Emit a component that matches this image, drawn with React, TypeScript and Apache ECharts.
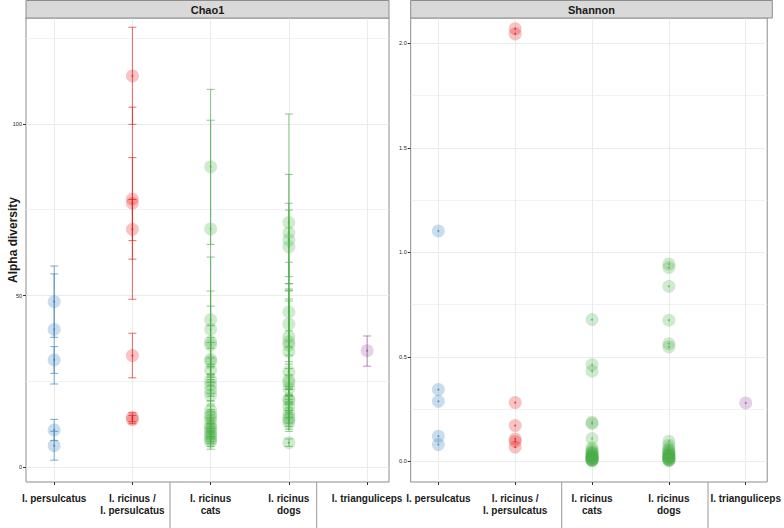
import React, { useEffect, useRef } from "react";
import * as echarts from "echarts";

// ---- data ----
const categories = [
  "I. persulcatus",
  "I. ricinus /\nI. persulcatus",
  "I. ricinus\ncats",
  "I. ricinus\ndogs",
  "I. trianguliceps",
];
const groupColors = ["#377EB8", "#E41A1C", "#4DAF4A", "#4DAF4A", "#984EA3"];
const panelTitles = ["Chao1", "Shannon"];
const chao1Ticks = [0, 50, 100];
const shannonTicks = [0, 0.5, 1, 1.5, 2];

// Chao1: [estimate, lower, upper]
const chao1Persulcatus = [
  [48.2, 37.8, 58.6],
  [40.1, 24.2, 56.3],
  [31.2, 27.3, 35.1],
  [10.8, 7.7, 13.9],
  [6.2, 2.0, 10.4],
];
const chao1RicinusPersulcatus = [
  [114.0, 99.9, 128.2],
  [78.1, 66.0, 90.2],
  [76.9, 48.9, 104.9],
  [69.3, 60.6, 78.0],
  [32.5, 26.0, 39.0],
  [14.5, 13.2, 15.8],
  [13.8, 12.6, 15.0],
];
const chao1Cats = [
  [87.5, 64.9, 110.1],
  [69.4, 37.7, 101.1],
  [42.9, 24.6, 61.2],
  [40.1, 28.9, 51.3],
  [36.5, 26.1, 46.9],
  [35.6, 30.0, 41.2],
  [31.4, 26.5, 36.3],
  [30.8, 27.0, 34.6],
  [28.3, 24.8, 31.8],
  [25.4, 21.5, 29.3],
  [23.9, 20.6, 27.2],
  [22.4, 19.3, 25.5],
  [21.0, 18.4, 23.6],
  [16.6, 14.0, 19.2],
  [15.2, 12.6, 17.8],
  [14.6, 12.5, 16.7],
  [13.7, 11.3, 16.1],
  [12.2, 10.0, 14.4],
  [11.5, 9.6, 13.4],
  [10.8, 8.8, 12.8],
  [10.0, 8.2, 11.8],
  [9.3, 7.4, 11.2],
  [8.6, 6.8, 10.4],
  [7.9, 5.2, 10.6],
  [7.4, 6.0, 8.8],
];
const chao1Dogs = [
  [71.3, 39.7, 102.9],
  [68.3, 51.3, 85.3],
  [66.2, 55.5, 76.9],
  [64.2, 53.5, 74.9],
  [45.2, 30.7, 59.7],
  [41.7, 35.0, 48.4],
  [38.0, 22.6, 53.4],
  [36.5, 21.1, 51.9],
  [35.6, 19.7, 51.5],
  [33.6, 18.2, 49.0],
  [27.8, 23.0, 32.6],
  [25.4, 20.8, 30.0],
  [24.6, 20.5, 28.7],
  [22.9, 19.0, 26.8],
  [20.0, 16.5, 23.5],
  [19.2, 15.8, 22.6],
  [17.6, 14.4, 20.8],
  [15.7, 12.8, 18.6],
  [14.5, 11.8, 17.2],
  [13.7, 11.0, 16.4],
  [12.9, 10.4, 15.4],
  [7.1, 6.0, 8.2],
];
const chao1Trianguliceps = [[33.9, 29.4, 38.2]];

// Shannon values
const shannonPersulcatus = [1.102, 0.343, 0.287, 0.12, 0.08];
const shannonRicinusPersulcatus = [2.07, 2.045, 0.281, 0.171, 0.107, 0.095, 0.068];
const shannonCats = [
  0.678, 0.463, 0.431, 0.187, 0.18, 0.109, 0.065, 0.055, 0.048, 0.042, 0.038,
  0.033, 0.03, 0.027, 0.024, 0.021, 0.018, 0.015, 0.013, 0.011, 0.009, 0.007,
  0.005, 0.004, 0.003,
];
const shannonDogs = [
  0.944, 0.927, 0.837, 0.675, 0.563, 0.547, 0.096, 0.077, 0.062, 0.055, 0.048,
  0.043, 0.039, 0.035, 0.031, 0.028, 0.025, 0.022, 0.019, 0.016, 0.013, 0.011,
  0.009, 0.007, 0.005, 0.003,
];
const shannonTrianguliceps = [0.279];

const chao1Groups = [chao1Persulcatus, chao1RicinusPersulcatus, chao1Cats, chao1Dogs, chao1Trianguliceps];
const shannonGroups = [shannonPersulcatus, shannonRicinusPersulcatus, shannonCats, shannonDogs, shannonTrianguliceps];

function hexA(hex: string, a: number) {
  const r = parseInt(hex.slice(1, 3), 16);
  const g = parseInt(hex.slice(3, 5), 16);
  const b = parseInt(hex.slice(5, 7), 16);
  return `rgba(${r},${g},${b},${a})`;
}

export default function App() {
  const ref = useRef<HTMLDivElement>(null);
  useEffect(() => {
    if (!ref.current) return;
    const chart = echarts.init(ref.current, null, { renderer: "svg" });
    const font = "'Liberation Sans', Arial, sans-serif";

    const errData: any[] = [];
    const chaoPts: any[] = [];
    const chaoDots: any[] = [];
    chao1Groups.forEach((g, i) => {
      g.forEach((d) => {
        errData.push([i, d[1], d[2]]);
        chaoPts.push({ value: [i, d[0]], itemStyle: { color: hexA(groupColors[i], 0.33) } });
        chaoDots.push({ value: [i, d[0]], itemStyle: { color: hexA(groupColors[i], 0.9) } });
      });
    });
    const shPts: any[] = [];
    const shDots: any[] = [];
    shannonGroups.forEach((g, i) => {
      g.forEach((v) => {
        shPts.push({ value: [i, v], itemStyle: { color: hexA(groupColors[i], 0.33) } });
        shDots.push({ value: [i, v], itemStyle: { color: hexA(groupColors[i], 0.9) } });
      });
    });

    const isInt = (v: number) => Math.abs(v - Math.round(v)) < 1e-6 && v > -0.5 && v < 4.5;
    const xAxisBase = (gi: number) => ({
      type: "value",
      gridIndex: gi,
      min: -0.36,
      max: 4.28,
      minInterval: 1,
      maxInterval: 1,
      axisLine: { show: false, onZero: false },
      axisTick: { show: true, length: 3, lineStyle: { color: "#333" }, customValues: [0, 1, 2, 3, 4] },
      axisLabel: {
        customValues: [0, 1, 2, 3, 4],
        formatter: (v: number) => (isInt(v) ? categories[Math.round(v)] : ""),
        fontSize: 10,
        fontWeight: "bold",
        fontFamily: font,
        color: "#1a1a1a",
        lineHeight: 12,
        margin: 10,
        verticalAlign: "top",
      },
      splitLine: { show: true, lineStyle: { color: "#EBEBEB", width: 1 } },
    });
    const yAxisBase = (gi: number, min: number, max: number, iv: number, ticks: number[], dec: number) => ({
      type: "value",
      gridIndex: gi,
      min,
      max,
      minInterval: iv,
      maxInterval: iv,
      splitNumber: 4,
      axisLine: { show: false, onZero: false },
      axisTick: { show: true, length: 3, lineStyle: { color: "#333" }, customValues: ticks },
      axisLabel: {
        customValues: ticks,
        formatter: (v: number) => v.toFixed(dec),
        fontSize: 5.5,
        fontFamily: font,
        color: "#222",
        margin: 4,
      },
      splitLine: { show: true, lineStyle: { color: "#EBEBEB", width: 1 } },
      minorTick: { show: false, splitNumber: 2 },
      minorSplitLine: { show: true, lineStyle: { color: "#EFEFEF", width: 0.8 } },
    });

    const option: any = {
      animation: false,
      backgroundColor: "#fff",
      grid: [
        { left: 26, top: 18, width: 363, height: 464, show: true, borderColor: "#8c8c8c", borderWidth: 1, backgroundColor: "transparent" },
        { left: 410.7, top: 18, width: 361.6, height: 464, show: true, borderColor: "#8c8c8c", borderWidth: 1, backgroundColor: "transparent" },
      ],
      xAxis: [xAxisBase(0), xAxisBase(1)],
      yAxis: [
        yAxisBase(0, -4.37, 130.9, 50, chao1Ticks, 0),
        yAxisBase(1, -0.099, 2.121, 0.5, shannonTicks, 1),
      ],
      series: [
        {
          type: "custom",
          xAxisIndex: 0,
          yAxisIndex: 0,
          data: errData,
          encode: { x: 0, y: [1, 2] },
          z: 2,
          renderItem: (params: any, api: any) => {
            const x = api.value(0);
            const top = api.coord([x, api.value(2)]);
            const bot = api.coord([x, api.value(1)]);
            const col = hexA(groupColors[x], 0.65);
            const st = { stroke: col, lineWidth: 1 };
            return {
              type: "group",
              children: [
                { type: "line", shape: { x1: top[0], y1: top[1], x2: bot[0], y2: bot[1] }, style: st },
                { type: "line", shape: { x1: top[0] - 4, y1: top[1], x2: top[0] + 4, y2: top[1] }, style: st },
                { type: "line", shape: { x1: bot[0] - 4, y1: bot[1], x2: bot[0] + 4, y2: bot[1] }, style: st },
              ],
            };
          },
        },
        { type: "scatter", xAxisIndex: 0, yAxisIndex: 0, data: chaoPts, symbolSize: 13, z: 3 },
        { type: "scatter", xAxisIndex: 0, yAxisIndex: 0, data: chaoDots, symbolSize: 2, z: 4 },
        { type: "scatter", xAxisIndex: 1, yAxisIndex: 1, data: shPts, symbolSize: 13, z: 3 },
        { type: "scatter", xAxisIndex: 1, yAxisIndex: 1, data: shDots, symbolSize: 2, z: 4 },
      ],
      graphic: [
        { type: "rect", shape: { x: 26, y: 0.5, width: 363, height: 17.5 }, style: { fill: "#D9D9D9", stroke: "#8c8c8c", lineWidth: 1 }, z: 10 },
        { type: "rect", shape: { x: 410.7, y: 0.5, width: 361.6, height: 17.5 }, style: { fill: "#D9D9D9", stroke: "#8c8c8c", lineWidth: 1 }, z: 10 },
        { type: "text", x: 207.5, y: 10, style: { text: panelTitles[0], font: `bold 11px ${font}`, fill: "#1a1a1a", align: "center", verticalAlign: "middle" }, z: 11 },
        { type: "text", x: 591.5, y: 10, style: { text: panelTitles[1], font: `bold 11px ${font}`, fill: "#1a1a1a", align: "center", verticalAlign: "middle" }, z: 11 },
        { type: "text", x: 13, y: 240, rotation: Math.PI / 2, style: { text: "Alpha diversity", font: `bold 12px ${font}`, fill: "#1a1a1a", align: "center", verticalAlign: "middle" }, z: 11 },
        { type: "line", shape: { x1: 170, y1: 482, x2: 170, y2: 528 }, style: { stroke: "#999", lineWidth: 1 }, z: 10 },
        { type: "line", shape: { x1: 316.7, y1: 482, x2: 316.7, y2: 528 }, style: { stroke: "#999", lineWidth: 1 }, z: 10 },
        { type: "line", shape: { x1: 561.7, y1: 482, x2: 561.7, y2: 528 }, style: { stroke: "#999", lineWidth: 1 }, z: 10 },
        { type: "line", shape: { x1: 708, y1: 482, x2: 708, y2: 528 }, style: { stroke: "#999", lineWidth: 1 }, z: 10 },
      ],
    };
    chart.setOption(option);
    return () => chart.dispose();
  }, []);
  return <div ref={ref} style={{ position: "absolute", left: 0, top: 0, width: 784, height: 528 }} />;
}
